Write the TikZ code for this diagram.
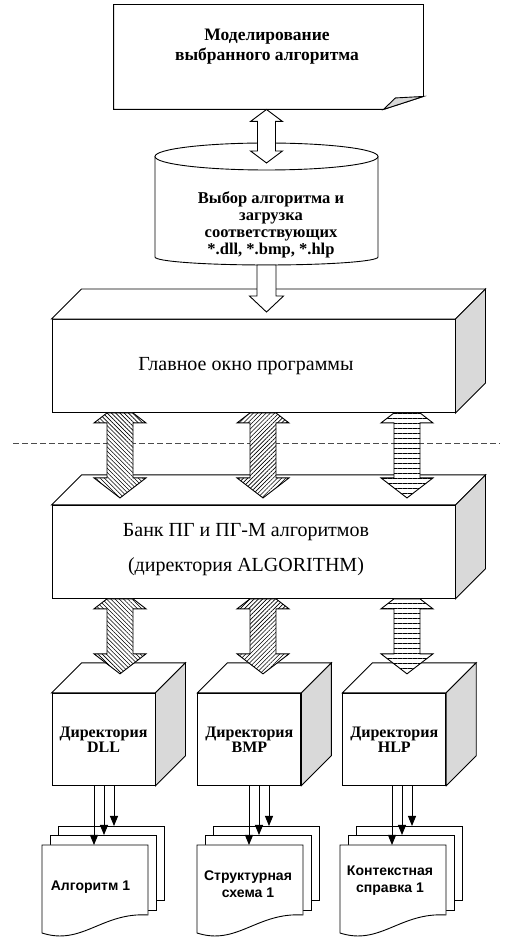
\documentclass[tikz,border=0pt]{standalone}
\usepackage{fontspec}
\setmainfont{Liberation Serif}
\setsansfont{Liberation Sans}
\usepackage{tikz}
\usetikzlibrary{positioning,calc,patterns.meta,arrows.meta}

\colorlet{sidegray}{black!15}

\tikzset{
	frontbox/.style={draw,fill=white,inner sep=0pt,minimum width=403pt,minimum height=93pt},
	dirbox/.style={draw,fill=white,inner sep=0pt,minimum width=103pt,minimum height=92pt,
		align=center,font=\fontsize{16}{15}\selectfont\bfseries},
	bigtext/.style={align=center,font=\fontsize{20}{35}\selectfont},
	boldtext/.style={align=center,font=\fontsize{17.5}{20}\selectfont\bfseries},
	cyltext/.style={align=center,font=\fontsize{16.5}{17}\selectfont\bfseries},
	doctext/.style={align=center,font=\fontsize{14}{17}\selectfont\sffamily\bfseries},
	hollow/.style={draw,fill=white},
	hatchdown/.style={draw,preaction={fill=white},pattern={Lines[angle=-45,distance=3pt,line width=.6pt]}},
	hatchup/.style={draw,preaction={fill=white},pattern={Lines[angle=45,distance=3pt,line width=.6pt]}},
	hatchflat/.style={draw,preaction={fill=white},pattern={Lines[angle=0,distance=5pt,line width=.8pt]}},
	cutline/.style={draw=black!70,dash pattern=on 6pt off 3pt},
}

% top face and shaded right face of box #1
\newcommand{\depthfaces}[1]{%
	\filldraw[fill=white] (#1.north west) -- ++(30,30) -- ($(#1.north east)+(30,30)$) -- (#1.north east) -- cycle;
	\filldraw[fill=sidegray] (#1.north east) -- ++(30,30) -- ($(#1.south east)+(30,30)$) -- (#1.south east) -- cycle;}

% block arrow, both heads: #1 style, #2 upper tip, #3 lower tip, #4 half shaft, #5 half head, #6 head length
\newcommand{\dblarrow}[6]{%
	\path[#1] let \p1=#2, \p2=#3 in
		(\x1,\y1) -- (\x1+#5,\y1-#6) -- (\x1+#4,\y1-#6) -- (\x1+#4,\y2+#6) -- (\x1+#5,\y2+#6)
		-- (\x1,\y2) -- (\x1-#5,\y2+#6) -- (\x1-#4,\y2+#6) -- (\x1-#4,\y1-#6) -- (\x1-#5,\y1-#6) -- cycle;}

% same, but the upper head starts half hidden under the box above
\newcommand{\cutarrow}[6]{%
	\path[#1] let \p1=#2, \p2=#3 in
		(\x1-#4,\y1) -- (\x1+#4,\y1) -- (\x1+#5,\y1-#6/2) -- (\x1+#4,\y1-#6/2) -- (\x1+#4,\y2+#6) -- (\x1+#5,\y2+#6)
		-- (\x1,\y2) -- (\x1-#5,\y2+#6) -- (\x1-#4,\y2+#6) -- (\x1-#4,\y1-#6/2) -- (\x1-#5,\y1-#6/2) -- cycle;}

% block arrow pointing down: #1 style, #2 top of shaft, #3 tip
\newcommand{\sglarrow}[6]{%
	\path[#1] let \p1=#2, \p2=#3 in
		(\x1-#4,\y1) -- (\x1+#4,\y1) -- (\x1+#4,\y2+#6) -- (\x1+#5,\y2+#6) -- (\x1,\y2)
		-- (\x1-#5,\y2+#6) -- (\x1-#4,\y2+#6) -- cycle;}

% three stacked sheets, front sheet's left edge at x=#1
\newcommand{\docstack}[2]{%
	\filldraw[fill=white] (#1+16,38) rectangle (#1+122,112);
	\filldraw[fill=white] (#1+8,28) rectangle (#1+114,103);
	\filldraw[fill=white] (#1,93) -- (#1+106,93) -- (#1+106,23)
		.. controls (#1+60,26) and (#1+40,-8) .. (#1,5) -- cycle;
	\coordinate (#21) at (#1+52,93);
	\coordinate (#22) at (#1+62,103);
	\coordinate (#23) at (#1+72,112);}

\begin{document}
\begin{tikzpicture}[x=1pt,y=1pt,line width=.9pt,>={Triangle[length=10pt,width=8pt]}]
	\useasboundingbox (0,0) rectangle (508,938);

	% simulation window
	\node[inner sep=0pt,minimum width=309pt,minimum height=104pt] (model) at (268.5,881) {};
	\filldraw[fill=white] (model.north west) -- (model.north east) -- ($(model.south east)+(0,13)$)
		-- ($(model.south east)+(-40,0)$) -- (model.south west) -- cycle;
	\filldraw[fill=sidegray] ($(model.south east)+(-40,0)$) -- ($(model.south east)+(-28,11.5)$)
		-- ($(model.south east)+(0,13)$) -- cycle;
	\node[boldtext] (modeltxt) at ($(model.center)+(-1.5,10)$) {Моделирование\\выбранного алгоритма};

	% algorithm selection
	\coordinate (cyltop) at (266.5,781.5);
	\coordinate (cylbot) at (266.5,673);
	\filldraw[fill=white] (cyltop) ++(-111.5,0) -- ++(0,-100.5)
		arc[start angle=180,end angle=360,x radius=111.5,y radius=8] -- ++(0,100.5) -- cycle;
	\filldraw[fill=white] (cyltop) ellipse[x radius=111.5,y radius=13.5];
	\node[cyltext] (choice) at (271,713) {Выбор алгоритма и\\загрузка\\соответствующих\\*.dll, *.bmp, *.hlp};
	\dblarrow{hollow}{(model.south -| cyltop)}{($(cyltop)+(0,-6.5)$)}{9}{16}{12}

	% main window and algorithm bank
	\node[frontbox] (mainwin) at (253.5,572) {};
	\depthfaces{mainwin}
	\node[bigtext] (maintxt) at ($(mainwin.center)+(-7.5,0)$) {Главное окно программы};
	\sglarrow{hollow}{(cylbot)}{($(mainwin.north -| cylbot)+(0,7)$)}{9.5}{17}{16}

	\node[frontbox,below=92pt of mainwin] (bank) {};
	\depthfaces{bank}
	\node[bigtext] (banktxt) at ($(bank.center)+(-7.5,2)$) {Банк ПГ и ПГ-М алгоритмов\\(директория ALGORITHM)};

	\coordinate (cutl) at (13,495);
	\coordinate (cutr) at (500,495);
	\draw[cutline] (cutl) -- (cutr);

	\coordinate (lane1) at (120,0);
	\coordinate (lane2) at (263,0);
	\coordinate (lane3) at (407,0);
	\foreach \l/\s in {lane1/hatchdown,lane2/hatchup,lane3/hatchflat}
		\cutarrow{\s}{(mainwin.south -| \l)}{($(bank.north -| \l)+(0,7)$)}{13}{26}{20};

	% directories
	\node[dirbox,below right=94pt and 0pt of bank.south west] (dirdll) {Директория\\DLL};
	\node[dirbox,right=42pt of dirdll] (dirbmp) {Директория\\BMP};
	\node[dirbox,right=41pt of dirbmp] (dirhlp) {Директория\\HLP};
	\foreach \d in {dirdll,dirbmp,dirhlp} {\depthfaces{\d}}
	\foreach \l/\s/\d in {lane1/hatchdown/dirdll,lane2/hatchup/dirbmp,lane3/hatchflat/dirhlp}
		\cutarrow{\s}{(bank.south -| \l)}{($(\d.north -| \l)+(0,19)$)}{13}{26}{20};

	% files
	\docstack{42}{docdll}
	\docstack{197}{docbmp}
	\docstack{340}{dochlp}
	\node[doctext] (algtxt) at (90.5,50.5) {Алгоритм 1};
	\node[doctext] (schtxt) at (248,53.5) {Структурная\\схема 1};
	\node[doctext] (ctxtxt) at (390,57) {Контекстная\\справка 1};
	\foreach \d/\s in {dirdll/docdll,dirbmp/docbmp,dirhlp/dochlp}
		\foreach \k in {1,2,3}
			\draw[->] (\d.south -| \s\k) -- (\s\k);
\end{tikzpicture}
\end{document}
